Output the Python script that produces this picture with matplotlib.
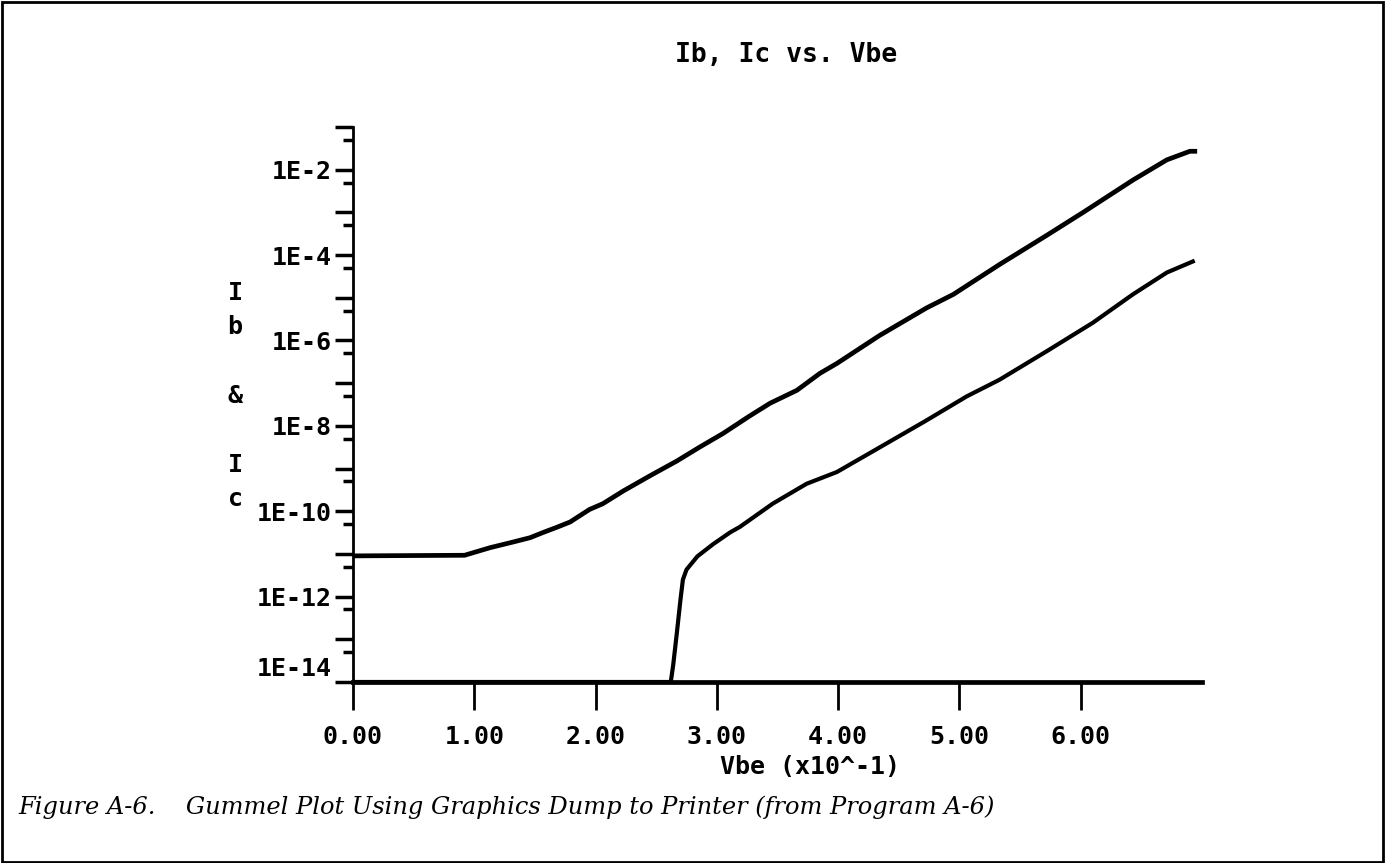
import matplotlib
matplotlib.use('Agg')
import matplotlib.pyplot as plt
from matplotlib.ticker import FixedLocator
from matplotlib.patches import Rectangle
from matplotlib.transforms import ScaledTranslation

# ---------------- data ----------------
# Vbe in volts, currents in amperes
V_ic = [0.000, 0.092, 0.113, 0.132, 0.146, 0.157, 0.168, 0.179, 0.195, 0.206,
        0.223, 0.245, 0.267, 0.286, 0.305, 0.327, 0.344, 0.366, 0.385, 0.399,
        0.434, 0.473, 0.495, 0.533, 0.572, 0.602, 0.643, 0.671, 0.690, 0.696]
I_ic = [9.0e-12, 9.3e-12, 1.4e-11, 1.9e-11, 2.4e-11, 3.2e-11, 4.2e-11, 5.6e-11,
        1.1e-10, 1.5e-10, 3.0e-10, 6.8e-10, 1.5e-9, 3.2e-9, 6.6e-9, 1.7e-8,
        3.4e-8, 6.8e-8, 1.7e-7, 2.9e-7, 1.3e-6, 5.8e-6, 1.2e-5, 6.0e-5, 2.9e-4,
        1.0e-3, 5.7e-3, 1.7e-2, 2.7e-2, 2.7e-2]

V_ib = [0.000, 0.262, 0.264, 0.267, 0.270, 0.272, 0.275, 0.284, 0.297, 0.311,
        0.319, 0.346, 0.374, 0.399, 0.434, 0.472, 0.506, 0.533, 0.572, 0.610,
        0.643, 0.671, 0.694]
I_ib = [1e-14, 1e-14, 2.5e-14, 1.4e-13, 8.5e-13, 2.5e-12, 4.3e-12, 8.8e-12,
        1.7e-11, 3.2e-11, 4.3e-11, 1.5e-10, 4.4e-10, 8.3e-10, 3.1e-9, 1.3e-8,
        4.9e-8, 1.2e-7, 5.6e-7, 2.6e-6, 1.2e-5, 3.9e-5, 7.4e-5]

x_ticks = [0.0, 0.1, 0.2, 0.3, 0.4, 0.5, 0.6]
x_tick_labels = ["0.00", "1.00", "2.00", "3.00", "4.00", "5.00", "6.00"]
y_exponents = list(range(-14, 0))
y_label_exponents = [-14, -12, -10, -8, -6, -4, -2]

title = "Ib, Ic vs. Vbe"
x_label = "Vbe (x10^-1)"
y_label = "I\nb\n\n&\n\nI\nc"
caption = "Figure A-6.    Gummel Plot Using Graphics Dump to Printer (from Program A-6)"

# ---------------- figure ----------------
W, H = 1387, 863
fig = plt.figure(figsize=(W / 100, H / 100), dpi=100)
fig.patch.set_facecolor('white')

MONO = 'DejaVu Sans Mono'

ax_left, ax_right, ax_top, ax_bot = 353, 1202, 127, 682
ax = fig.add_axes([ax_left / W, 1 - ax_bot / H, (ax_right - ax_left) / W, (ax_bot - ax_top) / H])
ax.set_yscale('log')
ax.set_xlim(0, 0.7)
ax.set_ylim(1e-14, 1e-1)

ax.plot(V_ic, I_ic, color='black', lw=3.4, clip_on=False, solid_capstyle='butt')
ax.plot(V_ib, I_ib, color='black', lw=3.0, clip_on=False, solid_capstyle='butt')

for s in ['top', 'right']:
    ax.spines[s].set_visible(False)
ax.spines['left'].set_linewidth(2.0)
ax.spines['bottom'].set_linewidth(3.4)

# y ticks
major = [10.0 ** e for e in y_exponents]
ax.yaxis.set_major_locator(FixedLocator(major))
ax.set_yticklabels(["1E%d" % e if e in y_label_exponents else "" for e in y_exponents])
minor = [5 * 10.0 ** e for e in range(-14, -1)]
ax.yaxis.set_minor_locator(FixedLocator(minor))
ax.yaxis.set_minor_formatter(plt.NullFormatter())
ax.tick_params(axis='y', which='major', length=13, width=2.5, direction='out', pad=2)
ax.tick_params(axis='y', which='minor', length=7, width=2.5, direction='out')

# x ticks
ax.set_xticks(x_ticks)
ax.set_xticklabels(x_tick_labels)
ax.tick_params(axis='x', which='major', length=20, width=2.0, direction='out', pad=11)
ax.tick_params(axis='x', which='minor', length=0)

for lab in ax.get_xticklabels() + ax.get_yticklabels():
    lab.set_fontfamily(MONO)
    lab.set_fontweight('bold')
    lab.set_fontsize(18)

# the bottom label sits a little above its tick, as in the printer dump
for tick in ax.yaxis.get_major_ticks():
    if tick.label1.get_text() == "1E-14":
        tick.label1.set_transform(tick.label1.get_transform()
                                  + ScaledTranslation(0, 16 / 100, fig.dpi_scale_trans))

ax.set_xlabel(x_label, fontfamily=MONO, fontweight='bold', fontsize=18)
ax.xaxis.label.set_verticalalignment('center')
ax.xaxis.set_label_coords((810 - ax_left) / (ax_right - ax_left), (ax_bot - 767) / (ax_bot - ax_top))

fig.text(786 / W, 1 - 55 / H, title, ha='center', va='center',
         fontfamily=MONO, fontweight='bold', fontsize=19)

fig.text(235 / W, 1 - 396 / H, y_label, ha='center', va='center', multialignment='center',
         linespacing=1.55, fontfamily=MONO, fontweight='bold', fontsize=18)

fig.text(18 / W, 1 - 807 / H, caption, ha='left', va='center',
         fontfamily='DejaVu Serif', fontstyle='italic', fontsize=17.4)

fig.add_artist(Rectangle((2 / W, 1 / H), (1383 - 2) / W, (861 - 1) / H,
                         transform=fig.transFigure, fill=False, lw=2.0, edgecolor='black'))

fig.savefig('out.png', dpi=100, facecolor='white')
